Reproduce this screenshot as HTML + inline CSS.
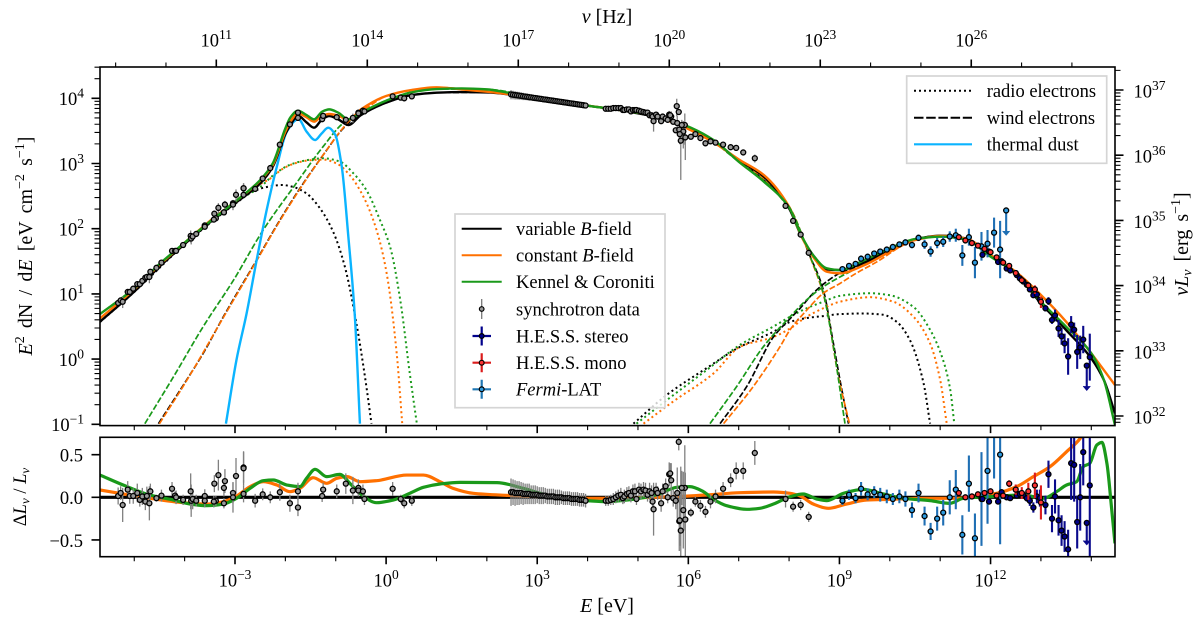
<!DOCTYPE html>
<html lang="en">
<head>
<meta charset="utf-8">
<title>Spectral energy distribution</title>
<style>
html,body{margin:0;padding:0;background:#fff;}
svg{display:block;font-family:"Liberation Serif",serif;font-size:18.5px;fill:#000;}
text{fill:#000;}
.i{font-style:italic;}
.t{font-size:20px;}
</style>
</head>
<body>
<svg id="chart" xmlns="http://www.w3.org/2000/svg" width="1200" height="627" viewBox="0 0 1200 627">
<defs>
<clipPath id="clip-main"><rect x="100" y="67" width="1015" height="358.6"/></clipPath>
<clipPath id="clip-res"><rect x="100" y="437.3" width="1015" height="119.4"/></clipPath>
</defs>
<rect x="0" y="0" width="1200" height="627" fill="#fff"/>
<g id="main-marks" clip-path="url(#clip-main)"></g>
<g id="res-marks" clip-path="url(#clip-res)"></g>
<rect x="100" y="67" width="1015" height="358.6" fill="none" stroke="#000" stroke-width="1.6"/>
<rect x="100" y="437.3" width="1015" height="119.4" fill="none" stroke="#000" stroke-width="1.6"/>
<g id="axes"></g>

<text class="t" x="607" y="23" text-anchor="middle"><tspan class="i">ν</tspan> [Hz]</text>
<text class="t" x="607" y="612" text-anchor="middle"><tspan class="i">E</tspan> [eV]</text>
<text class="t" style="word-spacing:3.2px" transform="translate(32 246) rotate(-90)" text-anchor="middle"><tspan class="i">E</tspan><tspan font-size="14" dy="-8">2</tspan><tspan dy="8"> dN / d</tspan><tspan class="i">E</tspan> [eV cm<tspan font-size="14" dy="-8">−2</tspan><tspan dy="8"> s</tspan><tspan font-size="14" dy="-8">−1</tspan><tspan dy="8">]</tspan></text>
<text class="t" style="word-spacing:3px" transform="translate(1188 244) rotate(-90)" text-anchor="middle"><tspan class="i">νL</tspan><tspan class="i" font-size="14" dy="3.5">ν</tspan><tspan dy="-3.5"> [erg s</tspan><tspan font-size="14" dy="-8">−1</tspan><tspan dy="8">]</tspan></text>
<text transform="translate(26 497) rotate(-90)" text-anchor="middle">Δ<tspan class="i">L</tspan><tspan class="i" font-size="13" dy="3.5">ν</tspan><tspan dy="-3.5"> / </tspan><tspan class="i">L</tspan><tspan class="i" font-size="13" dy="3.5">ν</tspan></text>

<g>
<rect x="455" y="214" width="210" height="193.7" fill="#fff" fill-opacity="0.8" stroke="#d5d5d5" stroke-width="1.7"/>
<line x1="461.7" x2="501.7" y1="228.7" y2="228.7" stroke="#000" stroke-width="2"/>
<text x="516" y="235">variable <tspan class="i">B</tspan>-field</text>
<line x1="461.7" x2="501.7" y1="255.3" y2="255.3" stroke="#ff7000" stroke-width="2"/>
<text x="516" y="261.6">constant <tspan class="i">B</tspan>-field</text>
<line x1="461.7" x2="501.7" y1="281.7" y2="281.7" stroke="#1a991a" stroke-width="2"/>
<text x="516" y="288">Kennel &amp; Coroniti</text>
<line x1="481.7" x2="481.7" y1="299" y2="319" stroke="#777" stroke-width="1.3"/>
<circle cx="481.7" cy="309" r="2.3" fill="#999" stroke="#000" stroke-width="1.2"/>
<text x="516" y="315.3">synchrotron data</text>
<path d="M472.5 336H491M481.7 326.5V345.5" stroke="#00008b" stroke-width="2.2" fill="none"/>
<circle cx="481.7" cy="336" r="2.4" fill="#00008b" stroke="#000" stroke-width="1.2"/>
<text x="516" y="342.3">H.E.S.S. stereo</text>
<path d="M472.5 362.7H491M481.7 353.2V372.2" stroke="#dc1c1c" stroke-width="2.2" fill="none"/>
<circle cx="481.7" cy="362.7" r="2.4" fill="#f33" stroke="#000" stroke-width="1.2"/>
<text x="516" y="369">H.E.S.S. mono</text>
<path d="M472.5 389.3H491M481.7 379.8V398.8" stroke="#1f77b4" stroke-width="2.2" fill="none"/>
<circle cx="481.7" cy="389.3" r="2.4" fill="#2d9be0" stroke="#000" stroke-width="1.2"/>
<text x="516" y="395.6"><tspan class="i">Fermi</tspan>-LAT</text>
</g>

<g>
<rect x="906.7" y="76" width="200" height="87.3" fill="#fff" fill-opacity="0.8" stroke="#d5d5d5" stroke-width="1.7"/>
<line x1="914" x2="972" y1="90.7" y2="90.7" stroke="#000" stroke-width="2" stroke-dasharray="2 3"/>
<text x="986.7" y="97">radio electrons</text>
<line x1="914" x2="972" y1="117.7" y2="117.7" stroke="#000" stroke-width="2" stroke-dasharray="9.5 2.7"/>
<text x="986.7" y="124">wind electrons</text>
<line x1="914" x2="972" y1="144.3" y2="144.3" stroke="#0bb4ff" stroke-width="2.2"/>
<text x="986.7" y="150.6">thermal dust</text>
</g>
</svg>

<script>
// ---------- shared energy grid for total models (log10 E / eV) ----------
const totalLogE = [-5.68,-5,-4.5,-4,-3.5,-3,-2.5,-2.25,-2,-1.9,-1.75,-1.58,-1.43,-1.27,-1.13,-0.95,-0.75,-0.5,0,0.5,1,1.5,2,2.5,3,3.5,4,4.5,5,5.5,6,6.5,7,7.5,8,8.25,8.5,8.75,9,9.5,10,10.5,11,11.5,12,12.5,13,13.5,14,14.25,14.47];
// log10 of E^2 dN/dE
const variableTotal = [0.574,1.034,1.417,1.765,2.097,2.389,2.695,2.951,3.452,3.590,3.733,3.631,3.549,3.677,3.728,3.677,3.590,3.743,3.933,4.050,4.086,4.096,4.091,4.055,3.999,3.943,3.887,3.835,3.769,3.692,3.539,3.334,3.053,2.798,2.312,1.877,1.571,1.376,1.366,1.484,1.673,1.836,1.893,1.852,1.596,1.315,0.855,0.446,0.011,-0.321,-0.832];
const constantTotal = [0.625,1.070,1.443,1.785,2.118,2.414,2.736,2.977,3.488,3.641,3.769,3.708,3.641,3.733,3.759,3.733,3.667,3.830,4.035,4.127,4.168,4.137,4.101,4.055,3.999,3.943,3.887,3.835,3.779,3.692,3.529,3.324,3.063,2.823,2.337,1.877,1.545,1.340,1.315,1.443,1.647,1.826,1.888,1.852,1.596,1.340,0.983,0.574,0.088,-0.168,-0.398];
const kennelTotal = [0.691,1.085,1.458,1.785,2.107,2.414,2.746,3.002,3.539,3.708,3.810,3.743,3.677,3.795,3.830,3.779,3.677,3.779,3.963,4.091,4.142,4.152,4.137,4.076,4.009,3.948,3.887,3.835,3.779,3.692,3.565,3.360,3.028,2.721,2.327,1.888,1.571,1.392,1.366,1.520,1.698,1.842,1.877,1.836,1.571,1.315,0.880,0.497,0.088,-0.321,-1.011];

// ---------- radio electrons: synchrotron dotted ----------
const radioSynVariableE = [-5.68,-5,-4,-3,-2.64,-2.37,-2.07,-1.84,-1.58,-1.31,-1.05,-0.82,-0.59,-0.42,-0.29];
const radioSynVariableV = [0.57,1.03,1.76,2.38,2.57,2.64,2.67,2.64,2.54,2.31,1.95,1.42,0.55,-0.27,-0.99];
const radioSynConstantE = [-5.68,-5,-4,-3,-2.7,-2.3,-2.04,-1.78,-1.51,-1.25,-0.98,-0.72,-0.45,-0.19,0.01,0.21,0.32];
const radioSynConstantV = [0.625,1.07,1.78,2.41,2.6,2.77,2.925,3.01,3.05,3.06,3,2.82,2.49,1.98,1.32,0.09,-0.99];
const radioSynKennelE = [-5.68,-5,-4,-3,-2.5,-2.24,-1.91,-1.58,-1.25,-0.92,-0.65,-0.39,-0.12,0.08,0.28,0.47,0.61];
const radioSynKennelV = [0.69,1.085,1.78,2.41,2.64,2.82,2.98,3.05,3.08,3.03,2.85,2.59,2.13,1.72,0.91,-0.22,-0.99];
// ---------- radio electrons: inverse Compton dotted ----------
const radioIcVariableE = [4.91,5.57,6.36,7.03,7.69,8.02,8.35,8.68,9.01,9.47,9.87,10.14,10.4,10.67,10.8];
const radioIcVariableV = [-0.99,-0.55,-0.14,0.19,0.42,0.57,0.63,0.66,0.69,0.7,0.68,0.57,0.29,-0.37,-0.99];
const radioIcConstantE = [5.11,5.7,6.5,7.03,7.69,8.02,8.35,8.68,9.01,9.61,10.07,10.47,10.8,11,11.13];
const radioIcConstantV = [-0.99,-0.65,-0.22,0.19,0.34,0.47,0.65,0.78,0.88,0.95,0.88,0.65,0.24,-0.32,-0.99];
const radioIcKennelE = [4.97,5.57,6.36,7.03,7.69,8.02,8.35,8.68,9.01,9.61,10,10.47,10.8,11.06,11.2,11.28];
const radioIcKennelV = [-0.99,-0.63,-0.17,0.22,0.5,0.65,0.78,0.88,0.97,1.01,0.98,0.8,0.45,-0.02,-0.47,-0.99];

// ---------- wind electrons: synchrotron dashed ----------
const windSynVariableE = [-4.52,-3.96,-3.63,-3.23,-2.57,-2.11,-1.71,-1.25,-0.85,-0.59,-0.39,0,0.5,1,2,3,4,5,6,7,8,8.42,8.68,8.88,9.01,9.18];
const windSynVariableV = [-0.99,-0.32,0.09,0.65,1.52,2.13,2.62,3.13,3.54,3.72,3.81,3.93,4.05,4.086,4.091,3.999,3.887,3.769,3.539,3.053,2.31,1.57,1.06,0.24,-0.32,-0.99];
const windSynConstantE = [-4.5,-3.96,-3.23,-2.57,-2.11,-1.71,-1.25,-0.85,-0.59,-0.39,0,0.5,1,2,3,4,5,6,7,8,8.42,8.71,8.98,9.2];
const windSynConstantV = [-0.99,-0.33,0.64,1.51,2.12,2.61,3.13,3.55,3.76,3.85,4.035,4.127,4.168,4.101,3.999,3.887,3.779,3.529,3.063,2.34,1.56,0.91,-0.27,-0.99];
const windSynKennelE = [-4.79,-4.22,-3.63,-3.03,-2.44,-1.78,-1.25,-0.85,-0.59,0,0.5,1,2,3,4,5,6,7,8,8.42,8.68,8.88,9.11];
const windSynKennelV = [-0.99,-0.27,0.5,1.21,1.98,2.7,3.26,3.62,3.74,3.963,4.091,4.142,4.137,4.009,3.887,3.779,3.565,3.028,2.33,1.57,1.01,0.19,-0.99];
// ---------- wind electrons: inverse Compton dashed ----------
const windIcVariableE = [6.63,7.16,7.69,8.02,8.22,8.48,8.75,9.01,9.34,9.74,10,10.5,11,11.5,12,12.5,13,13.5,14,14.25,14.47];
const windIcVariableV = [-0.99,-0.42,0.34,0.62,0.78,1.01,1.19,1.32,1.42,1.57,1.67,1.836,1.893,1.852,1.596,1.315,0.855,0.446,0.011,-0.321,-0.832];
const windIcConstantE = [6.7,7.29,7.82,8.02,8.35,8.68,9.01,9.34,9.74,10.27,10.5,11,11.5,12,12.5,13,13.5,14,14.25,14.47];
const windIcConstantV = [-0.99,-0.42,0.19,0.45,0.75,1.01,1.16,1.32,1.49,1.75,1.826,1.888,1.852,1.596,1.34,0.983,0.574,0.088,-0.168,-0.398];
const windIcKennelE = [6.43,6.96,7.49,8.02,8.35,8.68,9.01,9.34,9.74,10,10.5,11,11.5,12,12.5,13,13.5,14,14.25,14.47];
const windIcKennelV = [-0.99,-0.42,0.19,0.65,0.91,1.11,1.26,1.39,1.55,1.698,1.842,1.877,1.836,1.571,1.315,0.88,0.497,0.088,-0.321,-1.011];

// ---------- thermal dust ----------
const dustE = [-3.18,-2.97,-2.77,-2.57,-2.37,-2.17,-1.97,-1.74,-1.58,-1.41,-1.28,-1.15,-1.01,-0.88,-0.75,-0.62,-0.52];
const dustV = [-0.99,-0.01,0.7,1.52,2.29,2.95,3.49,3.68,3.49,3.36,3.46,3.55,3.44,2.95,1.88,0.65,-0.99];

// ---------- residual model curves ----------
const resConstantE = [-5.68,-5.22,-4.69,-4.03,-3.56,-3.23,-2.97,-2.7,-2.44,-2.17,-1.91,-1.71,-1.45,-1.18,-0.98,-0.78,-0.52,-0.19,0.41,0.74,1.07,1.33,1.73,2.39,3.06,3.85,4.38,5.04,5.7,6.36,7.03,7.69,8.02,8.22,8.48,8.78,9.14,9.54,10,10.67,11.33,11.72,12.12,12.52,12.85,13.18,13.51,13.78,14];
const resConstantV = [0.086,0.039,-0.012,-0.063,-0.079,-0.051,0.015,0.125,0.183,0.144,0.066,0.105,0.23,0.164,0.222,0.242,0.183,0.195,0.261,0.261,0.183,0.105,0.047,0.023,0.007,-0.012,-0.012,-0.004,0.007,0.027,0.054,0.062,0.047,0.015,-0.079,-0.129,-0.079,-0.032,-0.024,-0.012,-0.012,0.019,0.047,0.125,0.242,0.359,0.535,0.691,0.95];
const resKennelE = [-5.68,-5.22,-4.69,-4.22,-3.89,-3.56,-3.23,-2.97,-2.7,-2.44,-2.24,-1.97,-1.71,-1.58,-1.41,-1.18,-0.92,-0.72,-0.52,-0.19,0.14,0.47,0.74,1.07,1.47,2.2,2.72,3.06,3.52,3.98,4.38,4.78,5.37,5.77,6.03,6.3,6.5,6.76,7.16,7.42,7.69,8.02,8.28,8.55,8.75,9.08,9.47,9.87,10.27,10.8,11.19,11.46,11.99,12.65,13.05,13.31,13.51,13.71,13.84,13.97,14.11,14.21,14.31,14.4,14.47];
const resKennelV = [0.261,0.144,0.027,-0.032,-0.079,-0.098,-0.079,-0.012,0.105,0.195,0.203,0.144,0.125,0.222,0.328,0.242,0.269,0.164,0.047,-0.063,-0.032,0.047,0.117,0.156,0.175,0.172,0.105,0.047,-0.02,-0.039,-0.051,-0.032,0.027,0.117,0.125,0.066,-0.024,-0.098,-0.141,-0.129,-0.079,0.007,0.039,-0.02,-0.039,0.047,0.093,0.039,-0.012,-0.039,-0.071,-0.012,0.007,0.027,-0.012,0.066,0.144,0.183,0.359,0.398,0.613,0.644,0.398,-0.11,-0.54];

// ---------- synchrotron data ----------
const synLogE = [
-5.32,-5.27,-5.23,-5.13,-5.09,-5.02,-4.94,-4.89,-4.84,-4.78,-4.75,-4.7,-4.68,-4.56,-4.46,-4.25,-4.19,-4.17,-4.03,-3.88,-3.87,-3.84,-3.77,-3.6,-3.6,-3.41,-3.38,-3.42,-3.33,-3.22,-3.2,-3.22,-3.04,-3.04,-2.98,-2.83,-2.83,-2.83,-2.6,-2.45,-2.3,-2.11,-1.91,-1.75,-1.75,-1.27,-1.25,-0.98,-0.8,-0.66,-0.55,-0.55,-0.46,-0.43,0.13,0.29,0.36,0.51,
2.48,2.52,2.56,2.6,2.64,2.68,2.72,2.76,2.8,2.84,2.88,2.92,2.96,3,3.04,3.08,3.12,3.16,3.2,3.24,3.28,3.32,3.36,3.4,3.44,3.48,3.52,3.56,3.6,3.64,3.68,3.72,3.76,3.8,3.84,3.88,3.92,3.96,
4.36,4.41,4.46,4.51,4.56,4.61,4.66,4.7,4.73,4.78,4.82,4.86,4.9,4.94,4.97,5.02,5.06,5.11,5.15,5.19,5.23,5.27,5.29,5.31,5.36,5.39,5.46,5.49,5.55,5.59,5.62,5.66,5.64,5.7,5.75,
5.77,5.81,5.78,5.82,5.85,5.9,5.94,5.93,5.87,5.83,
6.05,6.14,6.24,6.34,6.44,6.54,6.69,6.84,6.95,7.09,7.32,7.93,8.08,8.23,8.39];
const synLogV = [
0.86,0.9,0.88,1.03,1.03,1.08,1.15,1.15,1.2,1.25,1.26,1.26,1.34,1.4,1.48,1.66,1.66,1.66,1.75,1.89,1.85,1.88,1.92,2.05,2.03,2.23,2.16,2.14,2.32,2.25,2.37,2.25,2.39,2.37,2.52,2.62,2.62,2.52,2.61,2.77,2.93,3.29,3.6,3.78,3.7,3.68,3.73,3.71,3.67,3.7,3.78,3.77,3.81,3.8,4.03,4.01,4,4.03,
4.06,4.055,4.05,4.046,4.041,4.037,4.032,4.027,4.023,4.018,4.014,4.009,4.005,4,3.995,3.991,3.986,3.982,3.977,3.972,3.968,3.963,3.959,3.954,3.949,3.945,3.94,3.936,3.931,3.926,3.922,3.917,3.913,3.908,3.903,3.899,3.894,3.89,
3.84,3.84,3.84,3.85,3.85,3.85,3.85,3.82,3.82,3.83,3.83,3.8,3.82,3.82,3.82,3.81,3.8,3.79,3.78,3.78,3.74,3.74,3.72,3.65,3.75,3.72,3.65,3.72,3.69,3.67,3.75,3.72,3.74,3.64,3.51,
3.88,3.79,3.62,3.52,3.35,3.49,3.4,3.59,3.59,3.45,
3.41,3.45,3.39,3.31,3.34,3.32,3.29,3.25,3.24,3.17,3.08,2.35,2.12,1.91,1.63];
const synRes = [
0.015,0.05,-0.09,0.09,0.015,0.015,0.05,-0.03,0.01,-0.05,0.015,-0.07,0.07,-0.01,0.02,0.1,0.02,0,-0.03,0.07,-0.04,-0.02,-0.04,0.015,-0.04,0.16,-0.04,-0.05,0.26,0.11,0.19,-0.07,0.05,0,0.25,0.35,0.34,0.04,-0.04,0.035,0,0.06,-0.07,0.07,-0.12,0.015,0.09,0.07,0.16,0.08,0.11,0.08,0.07,-0.02,0.1,-0.02,-0.07,-0.04,
0.06,0.06,0.05,0.05,0.05,0.05,0.04,0.04,0.04,0.04,0.03,0.03,0.03,0.03,0.02,0.02,0.02,0.02,0.01,0.01,0.01,0.01,0,0,0,0,-0.01,-0.01,-0.01,-0.01,-0.02,-0.02,-0.02,-0.02,-0.03,-0.03,-0.03,-0.04,
-0.04,-0.04,-0.03,-0.02,0,0.02,0.03,-0.01,0.01,0.04,0.05,0.02,0.07,0.07,-0.02,0.09,0.07,0.09,0.08,0.03,0.07,0.05,-0.05,-0.14,0.09,0.05,-0.07,0.07,0.13,0,0.27,0.2,0.28,-0.01,-0.04,
1,0.65,0.05,-0.28,-0.39,-0.15,-0.26,0.11,0.11,-0.27,
-0.18,-0.05,-0.1,-0.17,-0.05,0.01,0.1,0.2,0.31,0.31,0.52,-0.02,-0.11,-0.09,-0.23];
const synErr = [
0.1,0.08,0.2,0.1,0.09,0.09,0.11,0.08,0.1,0.1,0.11,0.2,0.09,0.04,0.07,0.08,0.05,0.08,0.06,0.21,0.19,0.12,0.07,0.08,0.08,0.1,0.06,0.07,0.18,0.1,0.14,0.06,0.12,0.18,0.21,0.18,0.2,0.1,0.08,0.07,0.07,0.1,0.1,0.1,0.1,0.07,0.08,0.08,0.12,0.16,0.1,0.06,0.08,0.07,0.08,0.05,0.06,0.06,
0.16,0.15,0.15,0.14,0.14,0.13,0.13,0.12,0.12,0.12,0.11,0.11,0.11,0.1,0.1,0.1,0.1,0.09,0.09,0.09,0.09,0.09,0.09,0.09,0.09,0.08,0.08,0.08,0.08,0.08,0.08,0.08,0.08,0.08,0.08,0.08,0.08,0.08,
0.06,0.06,0.06,0.07,0.07,0.07,0.08,0.07,0.08,0.08,0.08,0.08,0.08,0.09,0.07,0.08,0.09,0.09,0.09,0.08,0.1,0.09,0.1,0.31,0.08,0.08,0.1,0.09,0.09,0.07,0.14,0.2,0.12,0.1,0.1,
0.3,0.1,0.3,0.35,0.75,0.45,0.55,0.5,0.2,0.3,
0.05,0.06,0.07,0.07,0.08,0.08,0.08,0.08,0.1,0.1,0.14,0.1,0.06,0.06,0.06];

// ---------- Fermi-LAT ----------
const fermiE = [9.06,9.19,9.32,9.43,9.56,9.69,9.81,9.94,10.06,10.19,10.31,10.44,10.57,10.69,10.81,10.94,11.06,11.19,11.31,11.44,11.57,11.69,11.82,11.94,12.07,12.19];
const fermiV = [1.38,1.43,1.46,1.54,1.57,1.62,1.65,1.68,1.72,1.76,1.79,1.75,1.86,1.76,1.65,1.78,1.8,1.88,1.9,1.59,1.87,1.48,1.73,1.77,1.94,1.68];
const fermiDex = [0.04,0.04,0.04,0.05,0.05,0.04,0.04,0.04,0.04,0.04,0.05,0.05,0.05,0.07,0.08,0.08,0.08,0.08,0.1,0.16,0.13,0.24,0.22,0.21,0.23,0.44];
const fermiRes = [-0.04,0.03,-0.01,0.1,0.035,0.06,0.03,0.01,-0.02,0.01,-0.02,-0.15,0.05,-0.22,-0.4,-0.25,-0.18,0,0.09,-0.44,0.16,-0.48,-0.02,0.31,0.9,0.5];
const fermiResErr = [0.05,0.06,0.06,0.08,0.07,0.07,0.08,0.08,0.07,0.08,0.09,0.09,0.11,0.11,0.1,0.14,0.15,0.2,0.23,0.23,0.33,0.29,0.55,0.62,0.68,1.05];
const fermiLimitE = [12.31];
const fermiLimitV = [2.28];

// ---------- H.E.S.S. mono ----------
const monoE = [11.37,11.5,11.63,11.75,11.88,12,12.12,12.25,12.37,12.5,12.62,12.75,12.88,13];
const monoV = [1.87,1.82,1.78,1.74,1.69,1.64,1.56,1.48,1.43,1.32,1.21,1.13,1.07,0.88];
const monoRes = [0.05,0,0.01,0.035,0.05,0.07,0.02,0.02,0.16,0.09,0.05,0.07,0.14,-0.06];
const monoResErr = [0.02,0.02,0.02,0.02,0.02,0.02,0.03,0.03,0.04,0.06,0.07,0.1,0.15,0.2];

// ---------- H.E.S.S. stereo ----------
const stereoE = [11.84,11.97,12.15,12.22,12.32,12.39,12.52,12.58,12.65,12.72,12.78,12.85,12.92,12.98,13.09,13.15,13.22,13.28,13.35,13.41,13.47,13.54,13.6,13.66,13.72,13.78,13.84,13.97];
const stereoV = [1.6,1.65,1.49,1.5,1.39,1.36,1.29,1.24,1.19,1.14,1.07,0.98,0.99,0.91,0.78,0.89,0.6,0.67,0.47,0.35,0.24,0.04,0.53,0.45,0.11,0.18,0.3,0.03];
const stereoDex = [0.02,0.02,0.02,0.02,0.02,0.02,0.02,0.02,0.02,0.02,0.02,0.03,0.03,0.03,0.05,0.06,0.06,0.09,0.13,0.13,0.15,0.28,0.13,0.11,0.26,0.18,0.21,0.36];
const stereoRes = [-0.02,-0.05,-0.05,0.06,0,-0.01,0.02,0.04,0.03,-0.01,-0.04,-0.12,0.01,-0.01,-0.09,0.27,-0.25,0.01,-0.27,-0.39,-0.46,-0.61,0.4,0.38,-0.29,0,0.53,0.14];
const stereoResErr = [0.03,0.03,0.03,0.03,0.03,0.03,0.03,0.03,0.03,0.04,0.06,0.06,0.08,0.1,0.11,0.16,0.16,0.2,0.18,0.18,0.18,0.23,0.43,0.43,0.31,0.39,0.39,0.85];
const stereoLimitE = [13.91];
const stereoLimitV = [-0.1];
const stereoLimitRes = [-0.3];

// ---------- tick labels ----------
const bottomMajor = [-3,0,3,6,9,12];
const topMajor = [11,14,17,20,23,26];
const leftMajor = [4,3,2,1,0,-1];
const rightMajor = [37,36,35,34,33,32];
const residualTicks = [0.5,0,-0.5];
const residualLabels = ['0.5','0.0','−0.5'];

// ---------- axis functions ----------
const xE = e => 235 + (e + 3) * 50.37;
const xNu = n => 216.3 + (n - 11) * 50.33;
const yV = v => 98.3 + (4 - v) * 65.2;
const yL = l => 90 + (37 - l) * 65.2;
const yR = r => 497.3 - r * 85.3;

const NS = 'http://www.w3.org/2000/svg';
const mainG = document.getElementById('main-marks');
const resG = document.getElementById('res-marks');
const axesG = document.getElementById('axes');
function mk(tag, parent, attrs) {
  const el = document.createElementNS(NS, tag);
  for (const k in attrs) el.setAttribute(k, attrs[k]);
  parent.appendChild(el);
  return el;
}
// monotone cubic path through screen points
function curvePath(px, py) {
  const n = px.length;
  if (n < 3) return 'M' + px.map((x, i) => x.toFixed(2) + ' ' + py[i].toFixed(2)).join('L');
  const d = [], m = new Array(n);
  for (let i = 0; i < n - 1; i++) d[i] = (py[i + 1] - py[i]) / ((px[i + 1] - px[i]) || 1e-6);
  m[0] = d[0]; m[n - 1] = d[n - 2];
  for (let i = 1; i < n - 1; i++) {
    if (d[i - 1] * d[i] <= 0) m[i] = 0;
    else {
      const h0 = px[i] - px[i - 1], h1 = px[i + 1] - px[i];
      const w1 = 2 * h1 + h0, w2 = h1 + 2 * h0;
      m[i] = (w1 + w2) / (w1 / d[i - 1] + w2 / d[i]);
    }
  }
  let s = 'M' + px[0].toFixed(2) + ' ' + py[0].toFixed(2);
  for (let i = 0; i < n - 1; i++) {
    const h = (px[i + 1] - px[i]) / 3;
    s += 'C' + (px[i] + h).toFixed(2) + ' ' + (py[i] + m[i] * h).toFixed(2) + ' ' +
      (px[i + 1] - h).toFixed(2) + ' ' + (py[i + 1] - m[i + 1] * h).toFixed(2) + ' ' +
      px[i + 1].toFixed(2) + ' ' + py[i + 1].toFixed(2);
  }
  return s;
}
function drawCurve(parent, E, V, yFn, stroke, width, dash) {
  const attrs = {d: curvePath(E.map(xE), V.map(yFn)), fill: 'none', stroke: stroke, 'stroke-width': width};
  if (dash) attrs['stroke-dasharray'] = dash;
  return mk('path', parent, attrs);
}

const BLACK = '#000', ORANGE = '#ff7000', GREEN = '#1a991a', DUST = '#0bb4ff';
const DOT = '2 3', DASH = '6 2.2';
const DOT_W = 2, DASH_W = 1.7, TOTAL_W = 2.4, RES_W = 3.2;
let el;

// component curves
el = drawCurve(mainG, radioSynVariableE, radioSynVariableV, yV, BLACK, DOT_W, DOT);


el = drawCurve(mainG, radioSynConstantE, radioSynConstantV, yV, ORANGE, DOT_W, DOT);


el = drawCurve(mainG, radioSynKennelE, radioSynKennelV, yV, GREEN, DOT_W, DOT);


el = drawCurve(mainG, radioIcVariableE, radioIcVariableV, yV, BLACK, DOT_W, DOT);


el = drawCurve(mainG, radioIcConstantE, radioIcConstantV, yV, ORANGE, DOT_W, DOT);


el = drawCurve(mainG, radioIcKennelE, radioIcKennelV, yV, GREEN, DOT_W, DOT);


el = drawCurve(mainG, windSynVariableE, windSynVariableV, yV, BLACK, DASH_W, DASH);


el = drawCurve(mainG, windSynConstantE, windSynConstantV, yV, ORANGE, DASH_W, DASH);


el = drawCurve(mainG, windSynKennelE, windSynKennelV, yV, GREEN, DASH_W, DASH);


el = drawCurve(mainG, windIcVariableE, windIcVariableV, yV, BLACK, DASH_W, DASH);


el = drawCurve(mainG, windIcConstantE, windIcConstantV, yV, ORANGE, DASH_W, DASH);


el = drawCurve(mainG, windIcKennelE, windIcKennelV, yV, GREEN, DASH_W, DASH);


el = drawCurve(mainG, dustE, dustV, yV, DUST, 2.4);



// total curves
el = drawCurve(mainG, totalLogE, variableTotal, yV, BLACK, TOTAL_W);


el = drawCurve(mainG, totalLogE, constantTotal, yV, ORANGE, TOTAL_W);


el = drawCurve(mainG, totalLogE, kennelTotal, yV, GREEN, TOTAL_W);



// residual curves
el = mk('line', resG, {x1: 100, x2: 1115, y1: yR(0), y2: yR(0), stroke: BLACK, 'stroke-width': 3.2});


el = drawCurve(resG, resConstantE, resConstantV, yR, ORANGE, RES_W);


el = drawCurve(resG, resKennelE, resKennelV, yR, GREEN, RES_W);



// data marks
const MARK_R = 2.5, MARK_SW = 1.3;
function drawData(prefix, E, V, up, down, R, RErr, barColor, barWidth, fill) {
  for (let i = 0; i < E.length; i++) {
    const x = xE(E[i]);
    let m = mk('line', mainG, {x1: x, x2: x, y1: yV(V[i] + up[i]), y2: yV(V[i] - down[i]), stroke: barColor, 'stroke-width': barWidth});
    
    
    m = mk('line', resG, {x1: x, x2: x, y1: yR(R[i] + RErr[i]), y2: yR(R[i] - RErr[i]), stroke: barColor, 'stroke-width': barWidth});
    
    
  }
  for (let i = 0; i < E.length; i++) {
    const x = xE(E[i]);
    let m = mk('circle', mainG, {cx: x, cy: yV(V[i]), r: MARK_R, fill: fill, stroke: '#000', 'stroke-width': MARK_SW});
    
    
    m = mk('circle', resG, {cx: x, cy: yR(R[i]), r: MARK_R, fill: fill, stroke: '#000', 'stroke-width': MARK_SW});
    
    
  }
}
const LIMIT_DROP = 0.37;
function drawLimit(parent, x, y0, y1, color, fill) {
  let m = mk('line', parent, {x1: x, x2: x, y1: y0, y2: y1, stroke: color, 'stroke-width': 2.1});
  
  
  m = mk('path', parent, {d: 'M' + (x - 3.6) + ' ' + (y1 - 3.6) + 'L' + x + ' ' + (y1 + 0.6) + 'L' + (x + 3.6) + ' ' + (y1 - 3.6), fill: color, stroke: color, 'stroke-width': 0.8});
  
  
  m = mk('circle', parent, {cx: x, cy: y0, r: MARK_R, fill: fill, stroke: '#000', 'stroke-width': MARK_SW});
  
  
}

drawData('synchrotron', synLogE, synLogV,
  synErr.map(e => Math.log10(1 + e)), synErr.map(e => -Math.log10(Math.max(1 - e, 0.05))),
  synRes, synErr, '#808080', 1.3, '#999');
drawData('fermi', fermiE, fermiV, fermiDex, fermiDex, fermiRes, fermiResErr, '#1f6fb4', 2.1, '#2d9be0');
drawLimit(mainG, xE(fermiLimitE[0]), yV(fermiLimitV[0]), yV(fermiLimitV[0] - LIMIT_DROP), '#1f6fb4', '#2d9be0');
drawData('hess-stereo', stereoE, stereoV, stereoDex, stereoDex, stereoRes, stereoResErr, '#0a0a8c', 2.1, '#00008b');
drawLimit(mainG, xE(stereoLimitE[0]), yV(stereoLimitV[0]), yV(stereoLimitV[0] - LIMIT_DROP), '#0a0a8c', '#00008b');
drawLimit(resG, xE(stereoLimitE[0]), yR(stereoLimitRes[0]), yR(stereoLimitRes[0] - 0.25), '#0a0a8c', '#00008b');
drawData('hess-mono', monoE, monoV,
  monoResErr.map(e => Math.log10(1 + e)), monoResErr.map(e => -Math.log10(1 - e)),
  monoRes, monoResErr, '#dc1c1c', 2.1, '#f33');

// ---------- axes ----------
function tickPath(segments, width, name) {
  const t = mk('path', axesG, {d: segments.join(''), stroke: '#000', 'stroke-width': width, fill: 'none'});
  
  
}
const MAJ = 7.5, MIN = 4.5, YMAJ = 8.5, YMIN = 5.5;
const xMajorSet = [], xMinorSet = [], resXMajor = [], resXMinor = [], topMaj = [], topMin = [];
for (let e = -5; e <= 14; e++) {
  const isMajor = bottomMajor.includes(e);
  (isMajor ? xMajorSet : xMinorSet).push('M' + xE(e) + ' 425.6v' + (isMajor ? MAJ : MIN));
  (isMajor ? resXMajor : resXMinor).push('M' + xE(e) + ' 556.7v' + (isMajor ? MAJ : MIN));
}
for (let n = 9; n <= 28; n++) {
  const isMajor = topMajor.includes(n);
  (isMajor ? topMaj : topMin).push('M' + xNu(n) + ' 67v-' + (isMajor ? MAJ : MIN));
}
tickPath(xMajorSet, 1.6, 'main-x-major-ticks');
tickPath(xMinorSet, 1.1, 'main-x-minor-ticks');
tickPath(resXMajor, 1.6, 'residual-x-major-ticks');
tickPath(resXMinor, 1.1, 'residual-x-minor-ticks');
tickPath(topMaj, 1.6, 'top-x-major-ticks');
tickPath(topMin, 1.1, 'top-x-minor-ticks');

const lMaj = [], lMin = [], rMaj = [], rMin = [];
for (let d = -2; d <= 4; d++) {
  const y = yV(d);
  if (y >= 67 && y <= 425.6) lMaj.push('M100 ' + y + 'h-' + YMAJ);
  for (let k = 2; k < 10; k++) {
    const yk = yV(d + Math.log10(k));
    if (yk >= 67 && yk <= 425.6) lMin.push('M100 ' + yk + 'h-' + YMIN);
  }
}
for (let d = 31; d <= 37; d++) {
  const y = yL(d);
  if (y >= 67 && y <= 425.6) rMaj.push('M1115 ' + y + 'h' + YMAJ);
  for (let k = 2; k < 10; k++) {
    const yk = yL(d + Math.log10(k));
    if (yk >= 67 && yk <= 425.6) rMin.push('M1115 ' + yk + 'h' + YMIN);
  }
}
tickPath(lMaj, 1.6, 'left-y-major-ticks');
tickPath(lMin, 1.1, 'left-y-minor-ticks');
tickPath(rMaj, 1.6, 'right-y-major-ticks');
tickPath(rMin, 1.1, 'right-y-minor-ticks');
tickPath(residualTicks.map(r => 'M100 ' + yR(r) + 'h-' + YMAJ), 1.6, 'residual-y-ticks');

function powerLabel(x, y, anchor, exp) {
  const t = mk('text', axesG, {x: x, y: y, 'text-anchor': anchor});
  t.textContent = '10';
  const s = mk('tspan', t, {'font-size': 13.5, dy: -7.5});
  s.textContent = String(exp).replace('-', '−');
  return t;
}
bottomMajor.forEach(e => {
  const t = powerLabel(xE(e), 586.7, 'middle', e);
  
  
});
topMajor.forEach(n => {
  const t = powerLabel(xNu(n), 46.7, 'middle', n);
  
  
});
leftMajor.forEach(v => {
  const t = powerLabel(84, yV(v) + 6.8, 'end', v);
  
  
});
rightMajor.forEach(l => {
  const t = powerLabel(1133.5, yL(l) + 7.5, 'start', l);
  
  
});
residualTicks.forEach((r, i) => {
  const t = mk('text', axesG, {x: 83, y: yR(r) + 6.8, 'text-anchor': 'end'});
  t.textContent = residualLabels[i];
  
  
});
</script>
</body>
</html>
